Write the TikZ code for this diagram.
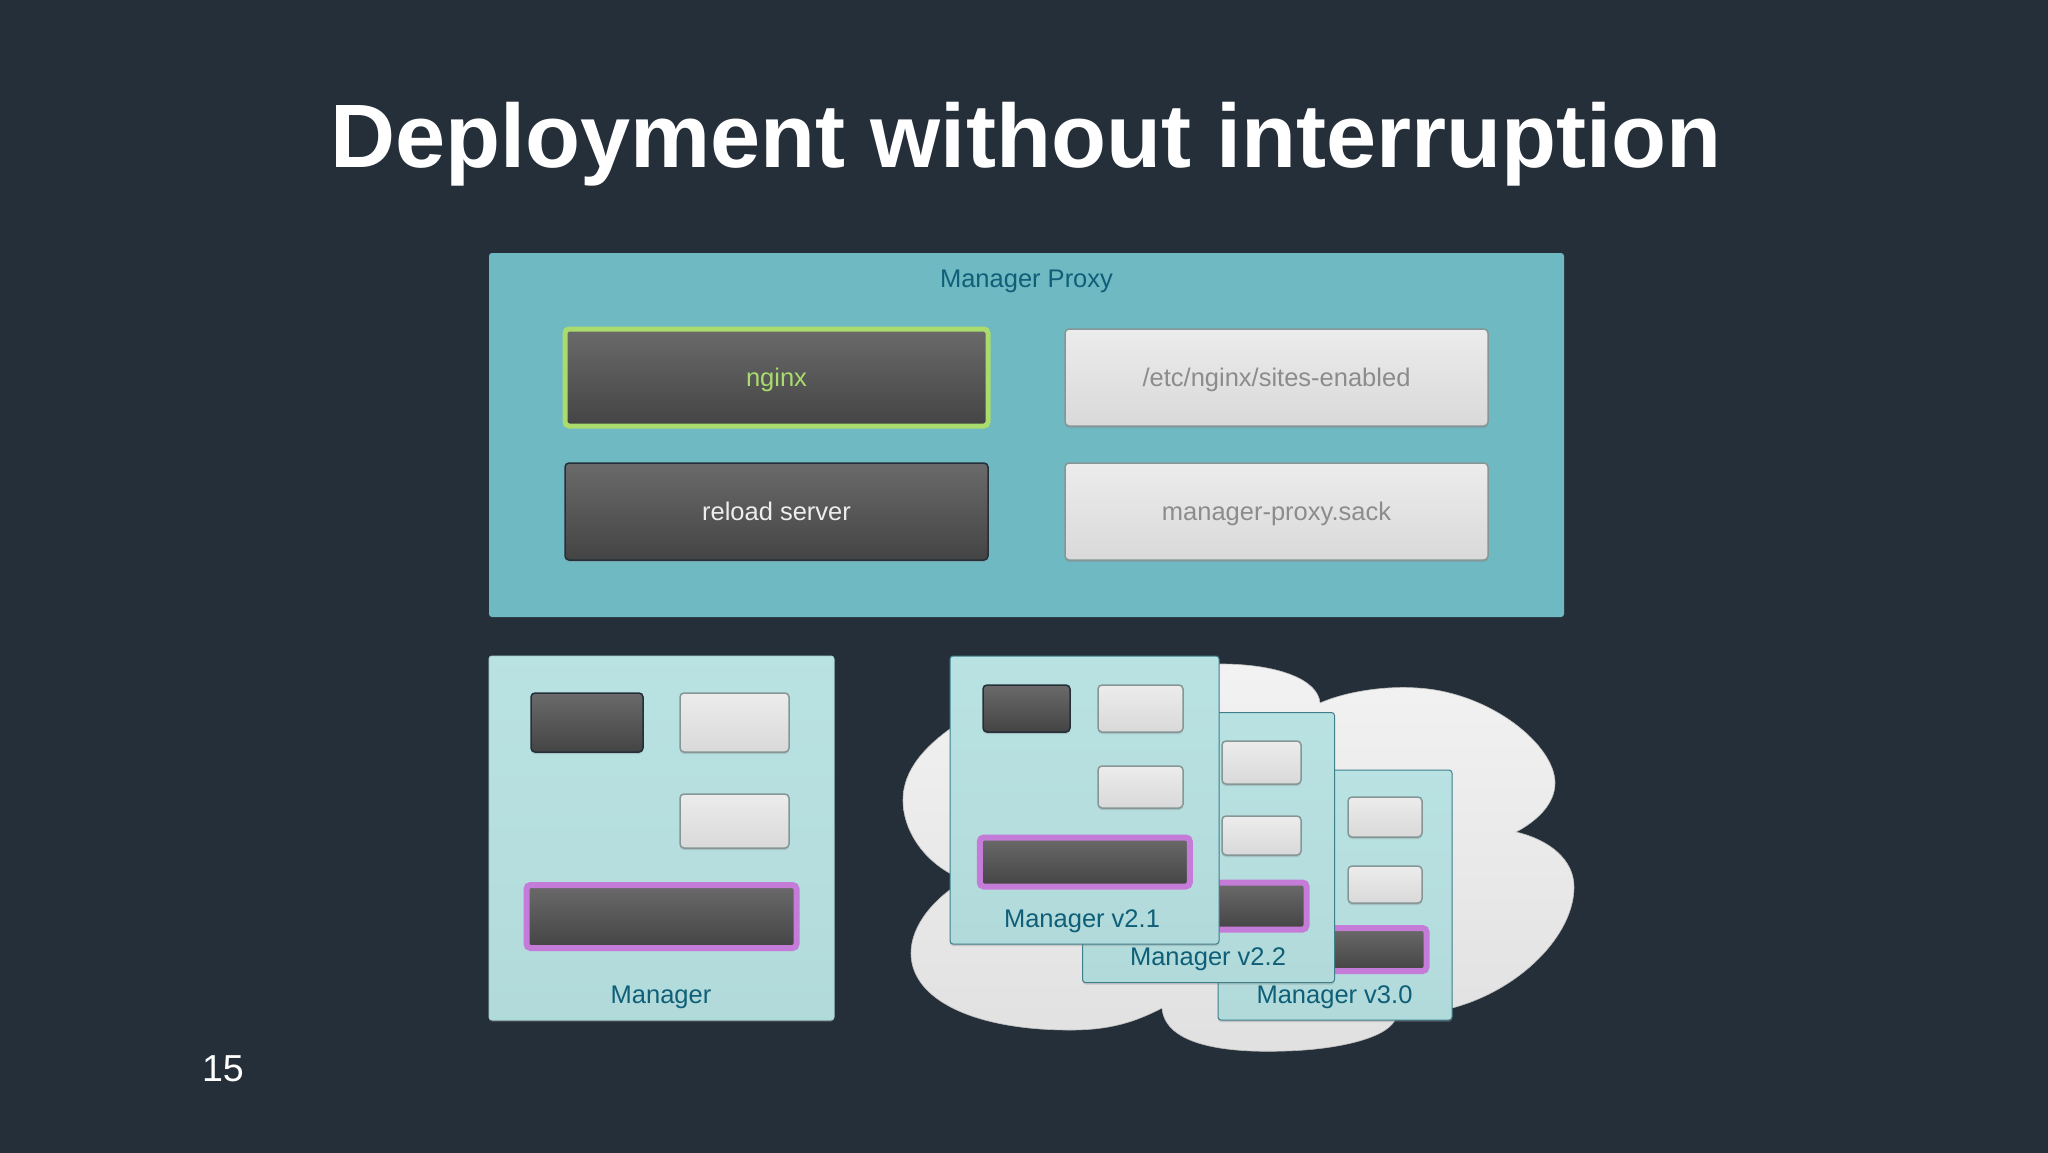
\documentclass[tikz,border=0pt]{standalone}
\usepackage{fontspec}
\setmainfont{Liberation Sans}
\usetikzlibrary{positioning,shadows}

\definecolor{slidebg}{HTML}{252F39}
\definecolor{proxyteal}{HTML}{6FB9C3}
\definecolor{cardtop}{HTML}{D0F5F3}
\definecolor{cardmid}{HTML}{BAE3E3}
\definecolor{cardpale}{HTML}{B5DDDD}
\definecolor{cardlow}{HTML}{ABD4D4}
\definecolor{cardedge}{HTML}{3F7F8C}
\definecolor{labelblue}{HTML}{0F5F78}
\definecolor{darktop}{HTML}{6A6A6A}
\definecolor{darklow}{HTML}{444444}
\definecolor{lighttop}{HTML}{ECECEC}
\definecolor{lightlow}{HTML}{D9D9D9}
\definecolor{lightedge}{HTML}{869696}
\definecolor{nginxgreen}{HTML}{A9DC6C}
\definecolor{barpurple}{HTML}{C47CD8}
\pgfdeclareverticalshading{cardshade}{100bp}{color(0bp)=(cardlow); color(40bp)=(cardpale); color(85bp)=(cardmid); color(100bp)=(cardtop)}

\tikzset{
  soft/.style={drop shadow={shadow xshift=0pt,shadow yshift=-2pt,opacity=.3}},
  sized/.style 2 args={minimum width=#1,minimum height=#2,inner sep=0pt,outer sep=0pt},
  darkbox/.style={draw=#1,line width=1.5pt,rounded corners=4pt,top color=darktop,bottom color=darklow,soft},
  darkbox/.default=slidebg,
  lightbox/.style={draw=lightedge,line width=1.5pt,rounded corners=4pt,top color=lighttop,bottom color=lightlow,soft},
  purplebar/.style={draw=barpurple,line width=6pt,rounded corners=4pt,top color=darktop,bottom color=darklow,soft},
  card/.style={draw=cardedge,line width=1pt,rounded corners=3pt,shading=cardshade,anchor=north west,soft},
  labeltext/.style={text=labelblue,text height=18pt,text depth=0pt,font=\fontsize{25.5}{30}\selectfont},
  boxtext/.style={text height=18pt,text depth=0pt,font=\fontsize{25.5}{30}\selectfont},
}

\begin{document}
\begin{tikzpicture}[x=1pt,y=-1pt]
    \useasboundingbox (0,0) rectangle (2048,1152);
    \fill[slidebg] (-3,-3) rectangle (2051,1155);

    \node[text=white,font=\bfseries\fontsize{90.1}{100}\selectfont] (title) at (1026,144) {Deployment without interruption};
    \node[text=white,font=\fontsize{37.6}{42}\selectfont]           (page)  at (223,1069) {15};

    \node[sized={1075pt}{364pt},fill=proxyteal,rounded corners=3pt,anchor=north west] (proxy) at (489,253) {};
    \node[labeltext,below=13pt of proxy.north]                 (proxylabel) {Manager Proxy};
    \node[sized={423pt}{97pt},darkbox=nginxgreen,line width=5pt,boxtext,text=nginxgreen,anchor=north west] (nginx) at (565,329) {nginx};
    \node[sized={423pt}{97pt},darkbox,boxtext,text=white!93!black,below=37pt of nginx]                     (reload) {reload server};
    \node[sized={423pt}{97pt},lightbox,boxtext,text=black!45,right=77pt of nginx]                          (sites) {/etc/nginx/sites-enabled};
    \node[sized={423pt}{97pt},lightbox,boxtext,text=black!45,right=77pt of reload]                         (sack) {manager-proxy.sack};

    \node[sized={345pt}{364pt},card,draw=cardlow] (manager) at (489,656) {};
    \node[sized={112pt}{59pt},darkbox,anchor=north west]       (managerdark)  at (531,693) {};
    \node[sized={109pt}{59pt},lightbox,right=37pt of managerdark] (managerlight) {};
    \node[sized={109pt}{54pt},lightbox,below=42pt of managerlight] (managerlow) {};
    \node[sized={270pt}{63pt},purplebar,anchor=north west]     (managerbar)   at (526.5,885) {};
    \node[labeltext]                                           (managerlabel) at (661,994) {Manager};

    \path[draw=white!75!black,line width=.6pt,top color=white!95!black,bottom color=white!88!black]
        (1320,703) .. controls (1350,690) and (1390,686) .. (1417,688)
        .. controls (1490,692) and (1555,745) .. (1555,783)
        .. controls (1555,805) and (1535,822) .. (1516,832)
        .. controls (1550,840) and (1574,860) .. (1574,887)
        .. controls (1574,935) and (1520,990) .. (1452,1008)
        .. controls (1430,1014) and (1410,1018) .. (1395,1020)
        .. controls (1385,1040) and (1330,1050) .. (1284,1051)
        .. controls (1225,1053) and (1165,1045) .. (1162,1008)
        .. controls (1135,1022) and (1110,1030) .. (1070,1030)
        .. controls (975,1030) and (911,1000) .. (911,953)
        .. controls (911,925) and (935,897) .. (965,880)
        .. controls (930,868) and (903,835) .. (903,800)
        .. controls (903,770) and (925,745) .. (960,722)
        .. controls (1020,680) and (1150,664) .. (1225,664)
        .. controls (1280,665) and (1318,680) .. (1320,703) -- cycle;

    \node[sized={234pt}{250pt},card] (vthree) at (1218,770) {};
    \node[sized={74pt}{40pt},lightbox,anchor=north west]       (vthreetop) at (1348,797) {};
    \node[sized={74pt}{37pt},lightbox,below=29pt of vthreetop] (vthreelow) {};
    \node[sized={186pt}{43pt},purplebar,anchor=north east]     (vthreebar) at (1426.5,928) {};
    \node[labeltext]                                           (vthreelabel) at (1334.5,994) {Manager v3.0};

    \node[sized={252pt}{270pt},card] (vtwotwo) at (1082.5,712.5) {};
    \node[sized={79pt}{43pt},lightbox,anchor=north west]       (vtwotop) at (1222,741) {};
    \node[sized={79pt}{39pt},lightbox,below=32pt of vtwotop]   (vtwolow) {};
    \node[sized={199pt}{47pt},purplebar,anchor=north east]     (vtwobar) at (1306.5,882.5) {};
    \node[labeltext]                                           (vtwolabel) at (1208,956) {Manager v2.2};

    \node[sized={269pt}{288pt},card] (vone) at (950,656) {};
    \node[sized={87pt}{47pt},darkbox,anchor=north west]        (vonedark) at (983,685) {};
    \node[sized={85pt}{47pt},lightbox,right=28pt of vonedark]  (vonetop) {};
    \node[sized={85pt}{42pt},lightbox,below=34pt of vonetop]   (vonelow) {};
    \node[sized={210pt}{49pt},purplebar,anchor=north west]     (vonebar) at (979.8,837.5) {};
    \node[labeltext]                                           (vonelabel) at (1082,918) {Manager v2.1};
\end{tikzpicture}
\end{document}
